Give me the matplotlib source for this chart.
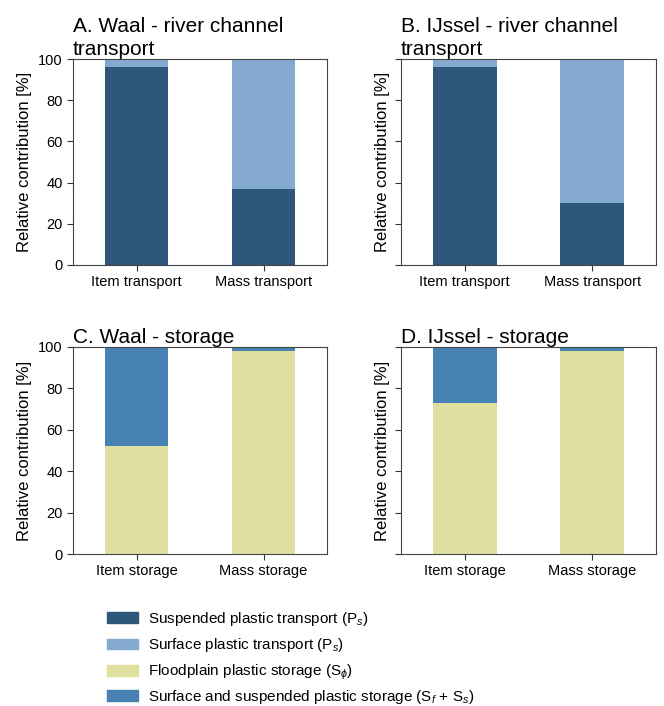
import numpy as np
import matplotlib
matplotlib.use('Agg')
import matplotlib.pyplot as plt
from matplotlib.patches import Patch

plt.rcParams['font.family'] = ['Liberation Sans', 'DejaVu Sans']
plt.rcParams['mathtext.fontset'] = 'custom'
plt.rcParams['mathtext.it'] = 'Liberation Sans:italic'
plt.rcParams['mathtext.rm'] = 'Liberation Sans'

# ── Data ─────────────────────────────────────────────────────────────────────
transport_cats = ['Item transport', 'Mass transport']
storage_cats = ['Item storage', 'Mass storage']

waal_suspended = [96, 37]
waal_surface = [4, 63]
ijssel_suspended = [96, 30]
ijssel_surface = [4, 70]

waal_floodplain = [52, 98]
waal_channel = [48, 2]
ijssel_floodplain = [73, 98]
ijssel_channel = [27, 2]

C_SUSP = '#2f5779'
C_SURF = '#84aad0'
C_FLOOD = '#dfe09f'
C_CHAN = '#4682b4'

fig = plt.figure(figsize=(6.64, 7.06), dpi=100)
ax_pos = {
    'A': [73 / 664, 1 - 265 / 706, 254 / 664, 206 / 706],
    'B': [401 / 664, 1 - 265 / 706, 255 / 664, 206 / 706],
    'C': [73 / 664, 1 - 554 / 706, 254 / 664, 207 / 706],
    'D': [401 / 664, 1 - 554 / 706, 255 / 664, 207 / 706],
}

panels = [
    ('A', 'A. Waal - river channel\ntransport', transport_cats,
     waal_suspended, waal_surface, C_SUSP, C_SURF, True),
    ('B', 'B. IJssel - river channel\ntransport', transport_cats,
     ijssel_suspended, ijssel_surface, C_SUSP, C_SURF, False),
    ('C', 'C. Waal - storage', storage_cats,
     waal_floodplain, waal_channel, C_FLOOD, C_CHAN, True),
    ('D', 'D. IJssel - storage', storage_cats,
     ijssel_floodplain, ijssel_channel, C_FLOOD, C_CHAN, False),
]

for key, title, cats, lower, upper, c_lo, c_up, show_lbl in panels:
    ax = fig.add_axes(ax_pos[key])
    x = np.arange(len(cats))
    ax.bar(x, lower, width=0.5, color=c_lo)
    ax.bar(x, upper, width=0.5, bottom=lower, color=c_up)
    ax.set_xlim(-0.5, 1.5)
    ax.set_ylim(0, 100)
    ax.set_yticks([0, 20, 40, 60, 80, 100])
    ax.set_xticks(x)
    ax.set_xticklabels(cats, fontsize=10.5)
    ax.tick_params(axis='y', labelsize=10.5, labelleft=show_lbl)
    ax.tick_params(colors='#333333', labelcolor='black', length=4)
    ax.set_ylabel('Relative contribution [%]', fontsize=12)
    for s in ax.spines.values():
        s.set_color('#444444')
    ax.set_title(title, loc='left', fontsize=15, pad=3, linespacing=1.25)

h1 = [Patch(color=C_SUSP), Patch(color=C_SURF)]
l1 = ['Suspended plastic transport (P$_s$)', 'Surface plastic transport (P$_s$)']
h2 = [Patch(color=C_FLOOD), Patch(color=C_CHAN)]
l2 = ['Floodplain plastic storage (S$_\\phi$)',
      'Surface and suspended plastic storage (S$_f$ + S$_s$)']

leg_kw = dict(loc='upper left', frameon=False, fontsize=11, handlelength=2.0,
              handleheight=0.7, handletextpad=0.7, borderpad=0, borderaxespad=0)
fig.legend(h1, l1, bbox_to_anchor=(107 / 664, 1 - 610 / 706),
           labelspacing=0.55, **leg_kw)
fig.legend(h2, l2, bbox_to_anchor=(107 / 664, 1 - 663 / 706),
           labelspacing=0.35, **leg_kw)

fig.savefig('out.png', dpi=100)
